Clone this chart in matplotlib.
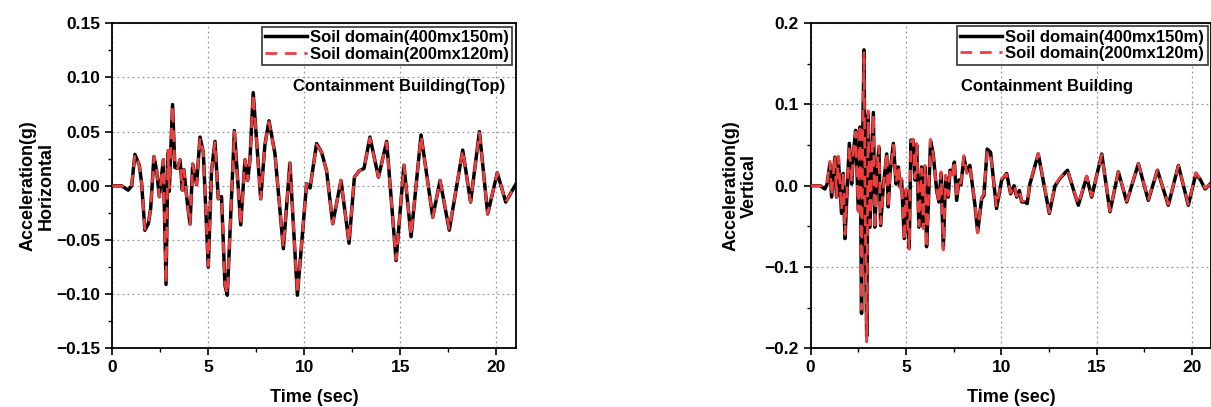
import numpy as np
import matplotlib.pyplot as plt
from matplotlib.ticker import MultipleLocator, FuncFormatter

plt.rcParams["font.family"] = ["Liberation Sans", "DejaVu Sans"]
plt.rcParams["font.weight"] = "bold"

# ---------- horizontal response, containment building top ----------
t_h = [0.0, 0.49, 0.83, 1.01, 1.18, 1.41, 1.53, 1.70, 1.88, 2.00, 2.17, 2.31, 2.45, 2.66,
       2.80, 2.90, 2.97, 3.03, 3.14, 3.26, 3.40, 3.53, 3.65, 3.73, 3.91, 4.05, 4.19, 4.39,
       4.57, 4.74, 5.00, 5.17, 5.35, 5.52, 5.69, 5.87, 5.99, 6.36, 6.69, 6.91, 7.05, 7.17,
       7.34, 7.73, 7.95, 8.16, 8.47, 8.91, 9.25, 9.64, 10.12, 10.30, 10.64, 10.90, 11.16,
       11.48, 11.91, 12.33, 12.61, 12.87, 13.11, 13.42, 13.86, 14.29, 14.78, 15.19, 15.56,
       16.08, 16.69, 17.07, 17.55, 18.25, 18.66, 19.12, 19.55, 20.05, 20.49, 21.0]
acc_h_400 = [0.0, 0.0, -0.004, 0.0, 0.029, 0.019, 0.002, -0.041, -0.035, -0.021, 0.027, 0.014,
             -0.010, 0.024, -0.091, 0.030, -0.005, 0.025, 0.075, 0.017, 0.016, 0.024, -0.004,
             0.015, -0.016, -0.035, 0.020, 0.001, 0.045, 0.031, -0.075, 0.014, 0.041, -0.012,
             -0.010, -0.092, -0.101, 0.051, -0.036, 0.024, 0.005, 0.024, 0.086, -0.012, 0.038,
             0.060, 0.030, -0.058, 0.021, -0.101, 0.002, -0.002, 0.039, 0.031, 0.014, -0.035,
             0.005, -0.053, 0.008, 0.014, 0.016, 0.045, 0.008, 0.041, -0.069, 0.019, -0.047,
             0.047, -0.029, 0.005, -0.041, 0.033, -0.015, 0.050, -0.026, 0.012, -0.015, 0.001]
acc_h_200 = [0.0, 0.0, -0.002, 0.001, 0.029, 0.019, 0.002, -0.040, -0.035, -0.021, 0.027, 0.014,
             -0.010, 0.024, -0.090, 0.033, -0.002, 0.027, 0.074, 0.017, 0.016, 0.024, -0.004,
             0.015, -0.016, -0.036, 0.020, 0.001, 0.044, 0.031, -0.074, 0.014, 0.040, -0.012,
             -0.010, -0.091, -0.100, 0.050, -0.036, 0.024, 0.005, 0.024, 0.085, -0.012, 0.038,
             0.059, 0.030, -0.057, 0.021, -0.100, 0.002, -0.002, 0.038, 0.031, 0.014, -0.035,
             0.005, -0.052, 0.008, 0.014, 0.016, 0.044, 0.008, 0.040, -0.068, 0.019, -0.046,
             0.046, -0.029, 0.005, -0.040, 0.033, -0.015, 0.049, -0.026, 0.012, -0.015, 0.001]

# ---------- vertical response ----------
t_v = [0.0, 0.49, 0.75, 0.86, 1.01, 1.10, 1.27, 1.36, 1.45, 1.62, 1.71, 1.80, 1.89, 2.03,
       2.15, 2.24, 2.36, 2.50, 2.59, 2.67, 2.73, 2.80, 2.86, 2.94, 3.02, 3.11, 3.29, 3.37,
       3.46, 3.58, 3.67, 3.81, 3.99, 4.07, 4.16, 4.34, 4.48, 4.60, 4.69, 4.77, 4.91, 5.00,
       5.08, 5.17, 5.26, 5.38, 5.47, 5.56, 5.68, 5.82, 5.91, 6.00, 6.08, 6.17, 6.29, 6.43,
       6.61, 6.73, 6.84, 6.96, 7.08, 7.22, 7.31, 7.43, 7.54, 7.66, 7.78, 7.88, 8.04, 8.19,
       8.35, 8.62, 8.76, 8.97, 9.09, 9.26, 9.44, 9.75, 10.02, 10.28, 10.49, 10.67, 10.81,
       10.95, 11.07, 11.24, 11.36, 11.50, 11.94, 12.52, 12.82, 13.08, 13.47, 14.04, 14.48,
       14.74, 15.27, 15.70, 16.14, 16.58, 17.19, 17.71, 18.19, 18.76, 19.29, 19.81, 20.21,
       20.45, 20.69, 20.95]
acc_v_400 = [0.0, 0.0, -0.004, 0.002, 0.027, -0.014, 0.035, -0.014, 0.035, -0.034, 0.015,
             -0.065, -0.018, 0.052, 0.002, 0.039, 0.068, -0.030, 0.072, -0.157, 0.055, 0.167,
             -0.026, -0.185, 0.088, -0.051, 0.090, -0.051, 0.007, 0.047, -0.049, -0.002, 0.039,
             -0.026, 0.015, 0.052, 0.002, 0.023, -0.001, 0.007, -0.065, -0.006, -0.039, -0.077,
             0.056, 0.056, 0.007, 0.050, -0.051, 0.023, -0.051, 0.023, -0.075, -0.026, 0.055,
             0.039, -0.006, -0.020, 0.015, -0.077, 0.011, -0.014, 0.019, 0.015, 0.029, -0.018,
             0.007, 0.001, 0.035, 0.017, 0.025, -0.024, -0.057, -0.016, -0.012, 0.045, 0.041,
             -0.028, 0.007, 0.015, -0.010, 0.000, -0.014, -0.006, -0.020, -0.020, -0.022, 0.002,
             0.039, -0.034, 0.000, 0.009, 0.019, -0.024, 0.011, -0.014, 0.039, -0.032, 0.017,
             -0.020, 0.027, -0.018, 0.019, -0.024, 0.025, -0.024, 0.015, 0.007, -0.004, 0.002]
acc_v_200 = [0.0, 0.0, -0.002, 0.002, 0.030, -0.012, 0.037, -0.014, 0.036, -0.030, 0.017,
             -0.060, -0.016, 0.050, 0.004, 0.041, 0.066, -0.032, 0.075, -0.152, 0.058, 0.165,
             -0.030, -0.192, 0.092, -0.048, 0.087, -0.054, 0.009, 0.049, -0.047, -0.004, 0.041,
             -0.028, 0.013, 0.050, 0.004, 0.025, -0.003, 0.009, -0.068, -0.004, -0.041, -0.078,
             0.054, 0.057, 0.009, 0.052, -0.049, 0.021, -0.053, 0.025, -0.077, -0.024, 0.057,
             0.037, -0.004, -0.022, 0.017, -0.079, 0.013, -0.012, 0.021, 0.013, 0.031, -0.016,
             0.009, 0.003, 0.037, 0.015, 0.024, -0.022, -0.058, -0.014, -0.010, 0.043, 0.039,
             -0.026, 0.009, 0.014, -0.009, 0.001, -0.013, -0.005, -0.019, -0.019, -0.021, 0.003,
             0.040, -0.033, 0.001, 0.010, 0.019, -0.023, 0.012, -0.013, 0.038, -0.031, 0.017,
             -0.019, 0.027, -0.017, 0.019, -0.023, 0.025, -0.023, 0.016, 0.008, -0.003, 0.002]

lbl_400 = "Soil domain(400mx150m)"
lbl_200 = "Soil domain(200mx120m)"
RED = "#ee3e3e"

fig = plt.figure(figsize=(12.11, 4.07), dpi=100)
ax1 = fig.add_axes([0.0927, 0.1442, 0.3330, 0.7985])
ax2 = fig.add_axes([0.6694, 0.1440, 0.3306, 0.7995])


def minus_fmt(digits):
    # tick labels with a real minus sign
    return FuncFormatter(lambda v, _: f"{v:.{digits}f}".replace("-", "\u2212"))


def style_axis(ax, ylim, major, minor, digits):
    ax.set_xlim(0, 21)
    ax.set_ylim(*ylim)
    ax.xaxis.set_major_locator(MultipleLocator(5))
    ax.xaxis.set_minor_locator(MultipleLocator(2.5))
    ax.yaxis.set_major_locator(MultipleLocator(major))
    ax.yaxis.set_minor_locator(MultipleLocator(minor))
    ax.yaxis.set_major_formatter(minus_fmt(digits))
    ax.grid(True, which="major", color="#999999", linestyle=(0, (1.5, 2.5)), linewidth=0.9)
    ax.tick_params(which="major", direction="out", length=5, width=1.2, labelsize=12.5)
    ax.tick_params(which="minor", direction="out", length=3, width=1.0)
    for s in ax.spines.values():
        s.set_linewidth(1.3)
    ax.set_xlabel("Time (sec)", fontsize=13, fontweight="bold", labelpad=10)


def draw(ax, t, a400, a200, title, title_x):
    ax.plot(t, a400, color="black", linewidth=2.5, label=lbl_400, zorder=3)
    ax.plot(t, a200, color=RED, linewidth=2.0, linestyle=(0, (4.2, 2.8)), label=lbl_200, zorder=4)
    leg = ax.legend(loc="upper right", frameon=True, fancybox=False,
                    edgecolor="black", handlelength=2.5, handletextpad=0.2,
                    borderpad=0.2, labelspacing=0.1, borderaxespad=0.2,
                    prop={"weight": "bold", "size": 12})
    leg.get_frame().set_linewidth(1.2)
    ax.text(title_x, 0.805, title, transform=ax.transAxes, fontsize=12, fontweight="bold",
            ha="right", va="center")


style_axis(ax1, (-0.15, 0.15), 0.05, 0.025, 2)
draw(ax1, t_h, acc_h_400, acc_h_200, "Containment Building(Top)", 0.975)
ax1.set_ylabel("Acceleration(g)\nHorizontal", fontsize=13, fontweight="bold",
               labelpad=1, linespacing=1.1)

style_axis(ax2, (-0.2, 0.2), 0.1, 0.05, 1)
draw(ax2, t_v, acc_v_400, acc_v_200, "Containment Building", 0.805)
ax2.set_ylabel("Acceleration(g)\nVertical", fontsize=13, fontweight="bold",
               labelpad=5, linespacing=1.1)

fig.savefig("out.png", dpi=100)
